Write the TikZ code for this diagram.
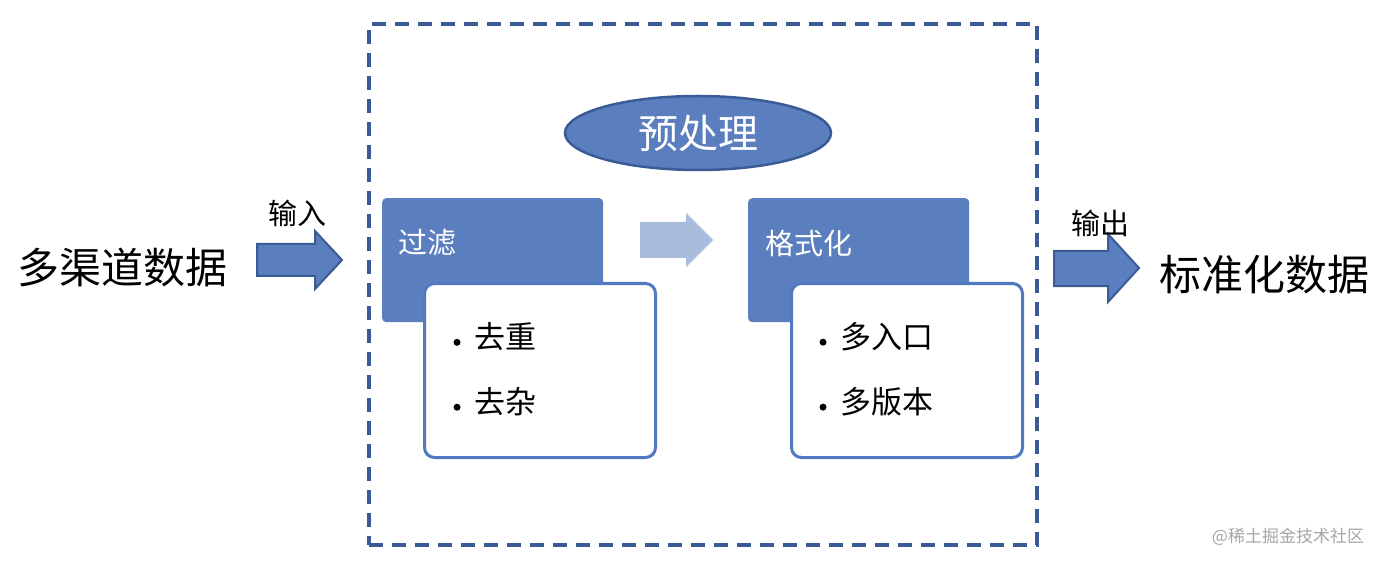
\documentclass[tikz,border=0pt]{standalone}
\usepackage{fontspec}
\setmainfont{Noto Sans CJK SC}
\usetikzlibrary{shapes.geometric}
\definecolor{dk}{HTML}{3B5B96}
\definecolor{mid}{HTML}{5B7FBE}
\definecolor{lt}{HTML}{A9BCDB}
\definecolor{bd}{HTML}{5179C2}
\tikzset{
 hdr/.style={fill=mid,draw=none,rounded corners=4pt,minimum width=221pt,minimum height=124pt,anchor=north west},
 card/.style={fill=white,draw=bd,line width=3pt,rounded corners=10pt,minimum width=231pt,minimum height=174pt,anchor=north west},
 big/.style={font=\fontsize{42}{44}\selectfont},
 lab/.style={font=\fontsize{29}{31}\selectfont},
 bul/.style={font=\fontsize{31}{33}\selectfont,anchor=west},
 solidarr/.style={fill=mid,draw=dk,line width=2pt,line join=miter},
}
\newcommand{\bl}{\raisebox{0.1em}{\tikz\fill (0,0) circle (3.5pt);}\hspace{14pt}}
\begin{document}
\begin{tikzpicture}[x=1pt,y=-1pt]
\useasboundingbox[fill=white] (0,0) rectangle (1382,564);
\node[draw=dk,line width=4pt,dash pattern=on 14pt off 9pt,minimum width=668pt,minimum height=521pt,anchor=north west] (frame) at (367,22) {};
\node[ellipse,fill=mid,draw=dk,line width=2.5pt,minimum width=266pt,minimum height=74pt,text=white,font=\fontsize{40}{42}\selectfont] (pre) at (698,133) {预处理};
\node[hdr] (f) at (382,198) {};
\node[text=white,lab,anchor=west] (ft) at (395,243) {过滤};
\node[card] (fc) at (423,282) {};
\node[bul] (b1) at (450,337) {\bl 去重};
\node[bul] (b2) at (450,402) {\bl 去杂};
\fill[lt] (640,222) -- (686,222) -- (686,213) -- (713,240) -- (686,267) -- (686,258) -- (640,258) -- cycle;
\node[hdr] (g) at (748,198) {};
\node[text=white,lab,anchor=west] (gt) at (762,243) {格式化};
\node[card] (gc) at (790,282) {};
\node[bul] (c1) at (816,337) {\bl 多入口};
\node[bul] (c2) at (816,402) {\bl 多版本};
\draw[solidarr] (257,244) -- (315,244) -- (315,231) -- (342,260) -- (315,289) -- (315,276) -- (257,276) -- cycle;
\node[lab] (in) at (297,213) {输入};
\draw[solidarr] (1054,251) -- (1108,251) -- (1108,234) -- (1139,268) -- (1108,302) -- (1108,286) -- (1054,286) -- cycle;
\node[lab] (out) at (1100,223) {输出};
\node[big] (src) at (122,268) {多渠道数据};
\node[big] (dst) at (1264,275) {标准化数据};
\node[text=gray!70,font=\fontsize{17}{18}\selectfont] (wm) at (1288,537) {@稀土掘金技术社区};
\end{tikzpicture}
\end{document}
